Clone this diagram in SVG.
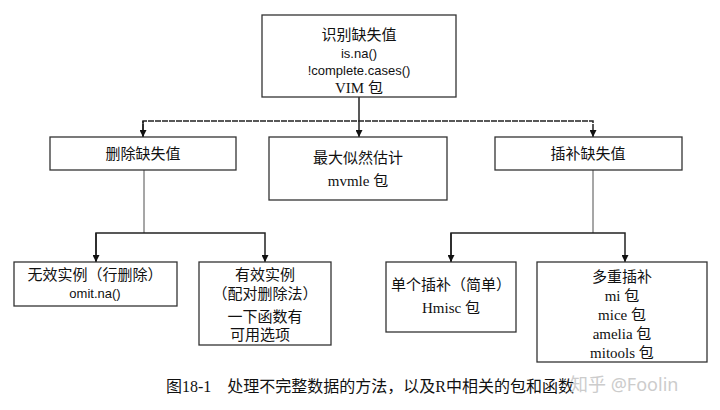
<svg xmlns="http://www.w3.org/2000/svg" width="720" height="410" viewBox="0 0 720 410">
<defs>
<marker id="ah" viewBox="0 0 10 10" refX="10" refY="5" markerWidth="7" markerHeight="7" markerUnits="userSpaceOnUse" orient="auto"><path d="M0,0L10,5L0,10z" fill="#111"/></marker>
<style>
.b{fill:#fff;stroke:#333;stroke-width:1.3}
.t{font-family:"Liberation Serif","Noto Sans CJK SC",serif;font-size:15px;fill:#111;text-anchor:middle}
.s{font-family:"Liberation Sans","Noto Sans CJK SC",sans-serif;font-size:13px;fill:#111;text-anchor:middle}
.c{fill:none;stroke:#222;stroke-width:1.5}
</style>
</defs>
<rect width="720" height="410" fill="#fff"/>
<g id="connectors">
<path class="c" d="M359,97V137" marker-end="url(#ah)"/>
<path class="c" d="M143,137V121H593V137" stroke-dasharray="6,1" marker-end="url(#ah)"/>
<path class="c" d="M143,121V137" marker-end="url(#ah)"/>
<path class="c" d="M144,170V233" style="stroke-width:0.8"/>
<path class="c" d="M96,262V233H265V262" marker-end="url(#ah)"/>
<path class="c" d="M96,233V262" marker-end="url(#ah)"/>
<path class="c" d="M593,170V233" style="stroke-width:0.8"/>
<path class="c" d="M451,262V233H625V262" marker-end="url(#ah)"/>
<path class="c" d="M451,233V262" marker-end="url(#ah)"/>
</g>
<g id="top"><rect class="b" x="262" y="15" width="194" height="82"/>
<text class="t" x="359" y="40">识别缺失值</text><text class="s" x="359" y="58">is.na()</text><text class="s" x="359" y="75">!complete.cases()</text><text class="t" x="359" y="93">VIM 包</text></g>
<g id="del"><rect class="b" x="50" y="137" width="186" height="33"/><text class="t" x="143" y="159">删除缺失值</text></g>
<g id="mle"><rect class="b" x="269" y="137" width="178" height="63"/><text class="t" x="358" y="163">最大似然估计</text><text class="t" x="358" y="186">mvmle 包</text></g>
<g id="imp"><rect class="b" x="495" y="137" width="187" height="33"/><text class="t" x="588" y="159">插补缺失值</text></g>
<g id="listwise"><rect class="b" x="14" y="262" width="163" height="44"/><text class="t" x="95" y="280">无效实例（行删除）</text><text class="s" x="95" y="298">omit.na()</text></g>
<g id="pairwise"><rect class="b" x="199" y="262" width="132" height="83"/><text class="t" x="265" y="280">有效实例</text><text class="t" x="265" y="299">（配对删除法）</text><text class="t" x="265" y="322">一下函数有</text><text class="t" x="230" y="340" style="text-anchor:start">可用选项</text></g>
<g id="single"><rect class="b" x="386" y="262" width="130" height="70"/><text class="t" x="451" y="290">单个插补（简单）</text><text class="t" x="451" y="313">Hmisc 包</text></g>
<g id="multi"><rect class="b" x="537" y="262" width="170" height="100"/><text class="t" x="622" y="282">多重插补</text><text class="t" x="622" y="301">mi 包</text><text class="t" x="622" y="320">mice 包</text><text class="t" x="622" y="339">amelia 包</text><text class="t" x="622" y="358">mitools 包</text></g>
<text class="t" x="370" y="392" style="font-size:16px">图18-1　处理不完整数据的方法，以及R中相关的包和函数</text>
<text x="570" y="391" style="font-family:'Noto Sans','Noto Sans CJK SC',sans-serif;font-size:18px;fill:#ccc">知乎 @Foolin</text>
</svg>
